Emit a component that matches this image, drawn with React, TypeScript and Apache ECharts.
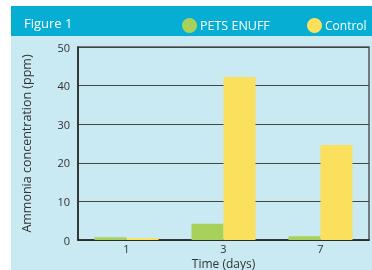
import React, { useEffect, useRef } from "react";
import * as echarts from "echarts";

const categories = ["1", "3", "7"];
const petsEnuff = [0.7, 4.2, 1.0];
const control = [0.5, 42.2, 24.6];
const seriesNames = ["PETS ENUFF", "Control"];
const yTicks = { min: 0, max: 50, interval: 10 };

const FONT = "'Open Sans', Lato, sans-serif";

export default function App() {
  const ref = useRef<HTMLDivElement>(null);
  useEffect(() => {
    if (!ref.current) return;
    const chart = echarts.init(ref.current, undefined, { renderer: "svg" });
    chart.setOption({
      animation: false,
      textStyle: { fontFamily: FONT },
      graphic: [
        { type: "rect", z: -10, shape: { x: 0, y: 0, width: 372, height: 270 }, style: { fill: "#ffffff" }, silent: true },
        { type: "rect", z: -9, shape: { x: 11, y: 36, width: 361, height: 234 }, style: { fill: "#C9E9F3" }, silent: true },
        { type: "rect", z: -9, shape: { x: 11, y: 6, width: 361, height: 30 }, style: { fill: "#06AED4" }, silent: true },
      ],
      title: {
        text: "Figure 1",
        left: 19,
        top: 11,
        textStyle: { color: "#ffffff", fontSize: 13, fontWeight: "normal", fontFamily: FONT },
      },
      legend: [
        {
          data: [seriesNames[0]],
          left: 177,
          top: 13,
          icon: "circle",
          itemWidth: 15,
          itemHeight: 15,
          textStyle: { color: "#ffffff", fontSize: 12.5, fontFamily: FONT, padding: [0, 0, 0, -2] },
        },
        {
          data: [seriesNames[1]],
          left: 302,
          top: 13,
          icon: "circle",
          itemWidth: 15,
          itemHeight: 15,
          textStyle: { color: "#ffffff", fontSize: 12, fontFamily: FONT, padding: [0, 0, 0, -2] },
        },
      ],
      grid: {
        left: 78,
        right: 3,
        top: 47,
        bottom: 30,
        outerBoundsMode: "none",
        containLabel: false,
        show: true,
        borderColor: "#555",
        borderWidth: 1.5,
        backgroundColor: "transparent",
      },
      xAxis: {
        type: "category",
        data: categories,
        name: "Time (days)",
        nameLocation: "middle",
        nameGap: 16,
        nameMoveOverlap: false,
        nameTextStyle: { color: "#333", fontSize: 12, fontFamily: FONT, lineHeight: 14 },
        axisLine: { lineStyle: { color: "#222", width: 1.5 } },
        axisTick: { show: false },
        axisLabel: { color: "#333", fontSize: 11, margin: 3, fontFamily: FONT },
      },
      yAxis: {
        type: "value",
        min: yTicks.min,
        max: yTicks.max,
        interval: yTicks.interval,
        name: "Ammonia concentration (ppm)",
        nameLocation: "middle",
        nameGap: 45,
        nameMoveOverlap: false,
        nameTextStyle: { color: "#333", fontSize: 12.5, fontFamily: FONT },
        axisLine: { show: true, lineStyle: { color: "#222", width: 1.5 } },
        axisTick: { show: false },
        axisLabel: { color: "#333", fontSize: 11, margin: 8, fontFamily: FONT },
        splitLine: { lineStyle: { color: "#444", width: 1.2 } },
      },
      series: [
        {
          name: seriesNames[0],
          type: "bar",
          data: petsEnuff,
          barWidth: 32,
          barGap: "0%",
          itemStyle: { color: "#A8D15C" },
        },
        {
          name: seriesNames[1],
          type: "bar",
          data: control,
          barWidth: 32,
          barGap: "0%",
          itemStyle: { color: "#FAE05C" },
        },
      ],
    });
    return () => chart.dispose();
  }, []);
  return (
    <div
      ref={ref}
      style={{ position: "fixed", left: 0, top: 0, width: 372, height: 270 }}
    />
  );
}
